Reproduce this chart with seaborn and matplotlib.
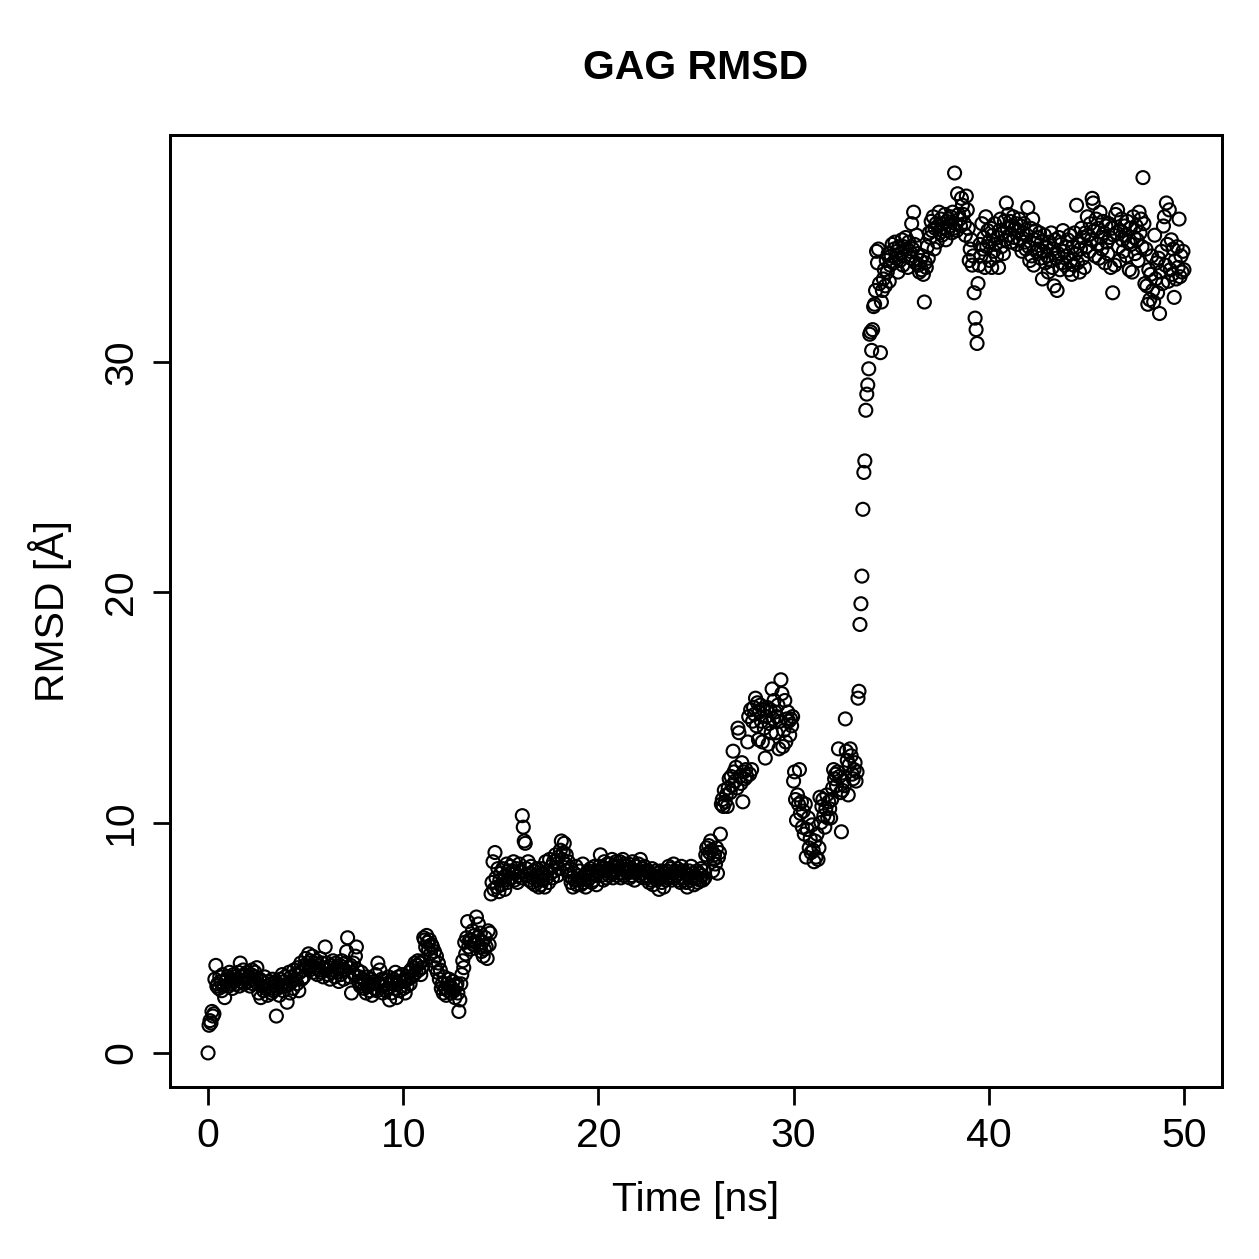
import numpy as np
import pandas as pd
import matplotlib
matplotlib.use("Agg")
import matplotlib.pyplot as plt
import seaborn as sns

# RMSD trace of the GAG ligand, one frame every 0.05 ns
DT = 0.05

rmsd_00_05 = [
    0.0, 1.2, 1.4, 1.3, 1.8, 1.6, 1.7, 3.2, 3.8, 2.9,
    3.0, 2.8, 3.3, 3.1, 2.7, 3.4, 2.9, 2.4, 3.1, 3.2,
    3.3, 2.9, 3.5, 3.0, 3.2, 2.8, 3.4, 3.1, 3.3, 3.0,
    3.2, 3.5, 2.9, 3.9, 3.3, 3.1, 3.6, 3.0, 3.4, 3.2,
    3.5, 3.1, 3.3, 2.9, 3.4, 3.6, 3.0, 3.2, 3.5, 3.3,
    3.7, 3.0, 2.6, 3.2, 2.4, 2.9, 3.1, 2.7, 3.3, 2.8,
    2.9, 2.5, 3.1, 2.8, 3.0, 2.6, 3.2, 2.7, 2.9, 3.1,
    1.6, 2.8, 3.0, 2.5, 3.2, 2.9, 3.4, 2.7, 3.1, 3.3,
    2.9, 2.2, 3.0, 3.5, 2.6, 3.3, 3.1, 2.8, 3.6, 3.2,
    3.4, 3.0, 3.7, 2.7, 3.5, 3.9, 3.2, 3.6, 3.3, 3.8,
]
rmsd_05_10 = [
    4.1, 3.7, 3.9, 4.3, 3.6, 4.0, 3.8, 4.2, 3.5, 3.9,
    3.7, 4.0, 3.4, 3.8, 3.6, 4.1, 3.5, 3.9, 3.3, 3.7,
    4.6, 3.6, 3.9, 3.4, 3.7, 3.2, 3.8, 3.5, 4.0, 3.6,
    3.3, 3.9, 3.5, 3.7, 3.1, 3.8, 3.4, 4.0, 3.6, 3.2,
    3.6, 3.9, 4.4, 5.0, 3.7, 3.3, 3.8, 2.6, 3.5, 3.9,
    3.4, 4.2, 4.6, 3.6, 3.1, 3.3, 2.9, 3.5, 3.0, 3.2,
    2.8, 3.1, 2.6, 3.3, 2.9, 3.0, 2.7, 3.2, 2.5, 3.0,
    3.1, 2.8, 3.4, 2.7, 3.9, 3.0, 3.6, 2.9, 3.2, 2.6,
    2.9, 3.2, 2.7, 3.0, 2.8, 3.3, 2.3, 3.1, 2.6, 3.0,
    3.2, 2.8, 3.5, 2.4, 3.0, 3.3, 2.7, 3.1, 2.9, 3.4,
]
rmsd_10_15 = [
    2.8, 3.1, 2.6, 3.3, 2.9, 3.2, 3.5, 3.0, 3.6, 3.3,
    3.7, 3.4, 3.9, 3.5, 3.8, 4.0, 3.6, 3.9, 3.4, 3.7,
    4.0, 5.0, 4.9, 4.6, 5.1, 4.8, 4.5, 4.9, 4.3, 4.7,
    4.6, 4.0, 4.4, 3.7, 4.2, 3.5, 3.9, 3.2, 3.6, 2.8,
    3.0, 2.6, 3.3, 2.8, 2.5, 3.0, 2.7, 3.2, 2.9, 2.6,
    2.8, 3.1, 2.7, 2.4, 2.9, 3.0, 2.6, 1.8, 2.3, 3.0,
    3.4, 4.0, 3.7, 4.8, 4.3, 5.0, 5.7, 4.6, 4.9, 4.5,
    4.9, 5.3, 4.7, 5.1, 4.8, 5.9, 5.0, 5.6, 4.6, 5.2,
    4.4, 4.8, 4.2, 4.5, 5.0, 4.6, 4.1, 5.3, 4.7, 5.2,
    6.9, 7.4, 8.3, 7.1, 8.7, 7.6, 7.2, 8.0, 7.0, 7.5,
]
rmsd_15_20 = [
    7.8, 7.3, 8.0, 7.5, 7.1, 7.7, 8.2, 7.4, 7.9, 7.6,
    8.1, 7.6, 7.9, 8.3, 7.5, 7.8, 8.0, 7.4, 7.7, 8.2,
    7.9, 7.6, 10.3, 9.8, 9.2, 9.1, 8.0, 7.7, 8.3, 7.5,
    7.8, 8.1, 7.4, 7.6, 7.9, 7.3, 7.7, 8.0, 7.5, 7.2,
    7.6, 7.3, 8.0, 7.5, 7.8, 7.2, 8.3, 7.6, 7.9, 7.4,
    8.4, 7.8, 8.1, 7.6, 8.3, 7.9, 8.6, 8.2, 7.7, 8.5,
    8.0, 8.8, 9.2, 8.4, 8.7, 9.1, 8.2, 8.6, 7.9, 8.3,
    7.7, 8.0, 7.4, 7.6, 7.2, 7.8, 7.5, 8.1, 7.3, 7.7,
    7.5, 7.9, 7.3, 7.6, 8.2, 7.4, 7.7, 7.2, 7.8, 7.5,
    7.9, 7.6, 8.0, 7.4, 7.8, 7.5, 8.1, 7.7, 7.3, 7.9,
]
rmsd_20_25 = [
    7.8, 8.1, 8.6, 7.7, 8.0, 7.5, 8.3, 7.9, 7.6, 8.2,
    8.0, 7.7, 8.2, 7.8, 8.4, 7.6, 8.1, 7.9, 8.3, 7.7,
    8.1, 7.8, 8.3, 7.6, 8.0, 8.4, 7.7, 8.2, 7.9, 8.1,
    7.8, 8.2, 7.6, 8.0, 7.7, 8.3, 7.9, 7.5, 8.1, 7.8,
    7.9, 8.2, 7.7, 8.4, 7.8, 8.0, 7.6, 8.1, 7.7, 7.9,
    7.6, 7.9, 7.4, 7.8, 7.5, 8.0, 7.3, 7.7, 7.6, 7.9,
    7.5, 7.8, 7.1, 7.6, 7.9, 7.4, 7.7, 7.2, 7.8, 7.5,
    7.9, 7.6, 8.1, 7.7, 8.0, 7.5, 7.8, 8.2, 7.6, 7.9,
    7.7, 8.0, 7.5, 7.8, 7.4, 8.1, 7.6, 7.9, 7.5, 7.8,
    7.4, 7.2, 7.7, 7.9, 7.5, 8.1, 7.6, 7.8, 7.3, 7.7,
]
rmsd_25_30 = [
    7.6, 7.9, 7.4, 7.8, 7.5, 8.0, 7.7, 7.5, 7.9, 7.6,
    8.6, 8.9, 8.5, 9.0, 8.7, 9.2, 8.8, 7.9, 8.4, 8.6,
    8.2, 8.9, 7.8, 8.5, 8.7, 9.5, 10.8, 11.0, 10.7, 11.4,
    10.9, 11.2, 10.7, 11.5, 11.9, 11.3, 12.0, 11.6, 13.1, 12.2,
    11.8, 12.4, 11.5, 14.1, 13.9, 12.0, 11.7, 12.6, 10.9, 12.2,
    11.9, 12.3, 12.0, 13.5, 14.6, 12.1, 14.9, 12.3, 14.4, 15.0,
    14.7, 15.4, 14.2, 15.2, 13.6, 14.8, 15.1, 14.4, 13.5, 14.9,
    14.1, 12.8, 14.6, 15.0, 13.4, 14.3, 14.9, 13.9, 15.8, 14.5,
    15.3, 14.8, 13.9, 14.6, 15.1, 13.2, 14.4, 16.2, 15.6, 13.3,
    14.0, 15.3, 13.5, 14.5, 14.8, 14.4, 13.8, 14.5, 14.2, 14.6,
]
rmsd_30_35 = [
    11.8, 12.2, 11.0, 10.1, 11.2, 10.8, 12.3, 10.4, 10.9, 9.8,
    10.5, 9.5, 10.8, 8.5, 9.7, 10.2, 8.9, 9.3, 8.7, 9.9,
    8.8, 8.3, 9.2, 8.5, 9.5, 8.4, 8.9, 11.1, 10.0, 10.7,
    11.0, 10.3, 9.8, 10.6, 11.2, 10.2, 10.9, 10.6, 10.2, 11.0,
    11.5, 12.3, 11.9, 12.1, 11.6, 12.2, 13.2, 12.0, 11.3, 9.6,
    11.4, 11.8, 11.6, 14.5, 13.1, 12.7, 11.2, 12.5, 13.2, 12.9,
    12.1, 11.9, 12.3, 12.6, 11.8, 12.2, 15.4, 15.7, 18.6, 19.5,
    20.7, 23.6, 25.2, 25.7, 27.9, 28.6, 29.0, 29.7, 31.2, 31.3,
    30.5, 31.4, 32.4, 32.5, 33.1, 34.8, 34.3, 34.9, 33.4, 30.4,
    32.6, 33.1, 33.6, 34.0, 33.3, 34.4, 33.9, 34.7, 33.5, 34.2,
]
rmsd_35_40 = [
    34.6, 35.1, 34.3, 34.9, 35.2, 34.5, 34.8, 33.9, 35.0, 34.4,
    34.7, 35.3, 34.2, 35.0, 34.6, 35.4, 34.9, 34.1, 35.2, 34.8,
    34.5, 36.0, 34.9, 36.5, 35.1, 34.3, 35.5, 34.7, 34.2, 33.9,
    34.4, 34.0, 34.6, 33.8, 32.6, 34.3, 34.1, 35.0, 34.5, 35.6,
    35.4, 36.1, 35.7, 36.3, 34.9, 35.8, 36.0, 35.2, 35.9, 36.5,
    35.6, 36.2, 35.5, 36.0, 35.8, 36.4, 35.3, 36.1, 35.7, 36.2,
    35.9, 36.3, 35.6, 36.5, 35.8, 38.2, 36.0, 35.7, 37.3, 36.4,
    36.2, 35.9, 37.1, 36.8, 36.4, 36.0, 35.5, 37.2, 36.6, 35.8,
    34.4, 34.9, 35.3, 34.2, 34.6, 33.0, 31.9, 31.4, 30.8, 33.4,
    34.2, 35.1, 34.6, 36.0, 34.9, 35.4, 34.1, 36.3, 35.0, 35.7,
]
rmsd_40_45 = [
    35.2, 34.4, 35.8, 34.1, 35.5, 34.8, 36.0, 35.1, 34.6, 35.4,
    34.1, 35.7, 36.2, 35.0, 35.6, 34.7, 36.1, 35.3, 36.9, 35.8,
    36.4, 35.5, 36.1, 35.2, 35.9, 36.3, 35.4, 35.8, 36.0, 35.1,
    35.7, 36.2, 35.3, 35.9, 34.8, 35.6, 36.0, 35.2, 34.9, 35.5,
    36.7, 35.0, 34.4, 35.8, 34.6, 36.2, 34.2, 35.3, 35.7, 34.8,
    35.4, 34.9, 35.6, 34.5, 35.2, 33.6, 34.8, 35.5, 34.3, 35.0,
    34.6, 33.9, 35.2, 34.4, 35.6, 34.1, 34.9, 33.3, 35.3, 34.5,
    33.1, 34.7, 35.4, 34.0, 35.1, 34.3, 35.7, 34.8, 34.2, 35.0,
    34.6, 35.3, 34.0, 35.5, 34.4, 33.8, 35.0, 34.2, 35.6, 34.7,
    36.8, 34.3, 35.2, 33.9, 34.9, 35.8, 34.5, 35.4, 34.1, 35.6,
]
rmsd_45_50 = [
    35.0, 36.3, 35.5, 34.8, 36.0, 35.3, 37.1, 36.9, 35.7, 34.6,
    36.2, 35.1, 35.8, 34.5, 36.5, 35.4, 34.9, 36.1, 35.6, 34.3,
    35.9, 35.2, 34.7, 36.0, 35.4, 34.1, 35.8, 33.0, 35.5, 34.2,
    36.4, 35.6, 36.6, 35.0, 34.4, 35.7, 36.2, 35.3, 34.8, 35.9,
    35.5, 34.6, 36.1, 35.2, 34.0, 35.8, 35.1, 33.9, 36.3, 35.4,
    34.7, 35.9, 35.3, 34.4, 36.5, 35.6, 36.2, 35.0, 38.0, 36.0,
    33.4, 34.9, 33.3, 32.5, 34.0, 32.7, 33.8, 34.6, 33.1, 32.6,
    35.5, 33.6, 34.3, 33.0, 34.5, 32.1, 33.9, 34.8, 33.4, 35.9,
    36.3, 34.2, 36.9, 35.1, 33.5, 36.6, 34.0, 35.3, 33.8, 34.9,
    32.8, 34.4, 33.6, 35.0, 34.1, 36.2, 33.7, 34.6, 33.9, 34.8,
    34.0,
]

x_ticks = [0, 10, 20, 30, 40, 50]
y_ticks = [0, 10, 20, 30]

rmsd = (rmsd_00_05 + rmsd_05_10 + rmsd_10_15 + rmsd_15_20 + rmsd_20_25
        + rmsd_25_30 + rmsd_30_35 + rmsd_35_40 + rmsd_40_45 + rmsd_45_50)
df = pd.DataFrame({"time": np.arange(len(rmsd)) * DT, "rmsd": rmsd})

sns.set_theme(style="ticks")
plt.rcParams["font.family"] = ["Liberation Sans", "DejaVu Sans"]
FS = 16.4

W = 1259
fig = plt.figure(figsize=(W / 180, W / 180), dpi=180)
ax = fig.add_axes([170 / W, 1 - 1087 / W, 1052 / W, 952 / W])

sns.scatterplot(data=df, x="time", y="rmsd", ax=ax, marker="o", s=27,
                color="black", facecolor="none", edgecolor="black",
                linewidth=0.85)

ax.set_xlim(-1.95, 51.95)
ax.set_ylim(-1.48, 39.85)
ax.set_xticks(x_ticks)
ax.set_yticks(y_ticks)
ax.set_xticklabels([str(v) for v in x_ticks], fontsize=FS)
ax.set_yticklabels([str(v) for v in y_ticks], fontsize=FS, rotation=90, va="center")
ax.tick_params(axis="both", direction="out", length=7.0, width=1.1,
               color="black", labelcolor="black", pad=5)

for sp in ax.spines.values():
    sp.set_visible(True)
    sp.set_color("black")
    sp.set_linewidth(1.2)

ax.set_xlabel("Time [ns]", fontsize=FS, color="black")
ax.set_ylabel("RMSD [Å]", fontsize=FS, color="black")
ax.xaxis.set_label_coords(0.5, (1087 - 1200) / 952)
ax.xaxis.label.set_va("center")
ax.yaxis.set_label_coords((50 - 170) / 1052, 0.5)
ax.yaxis.label.set_va("center")

fig.text(696 / W, 1 - 68 / W, "GAG RMSD", fontsize=FS, fontweight="bold",
         ha="center", va="center", color="black")

fig.savefig("out.png", dpi=180, facecolor="white")
